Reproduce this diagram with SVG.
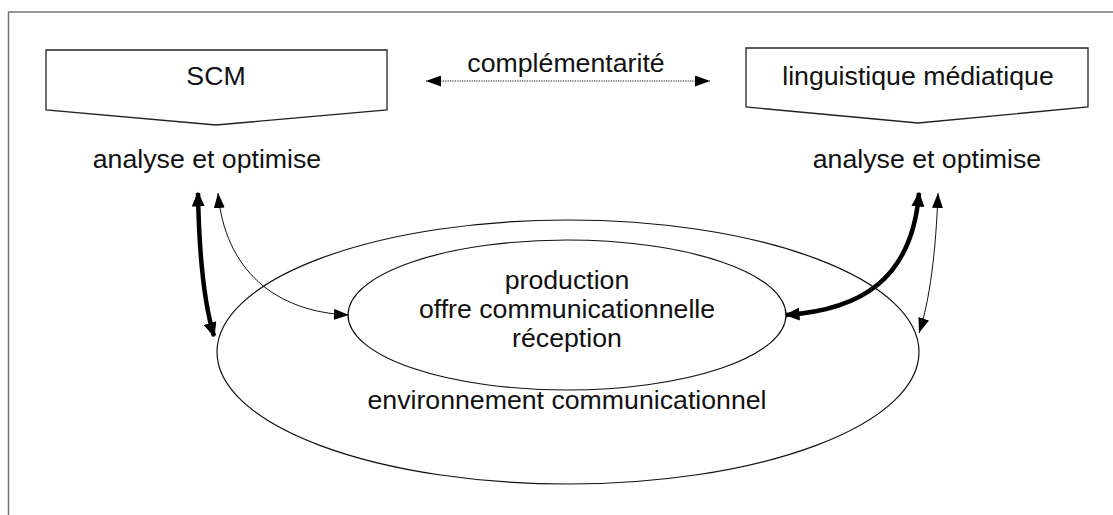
<svg xmlns="http://www.w3.org/2000/svg" width="1113" height="515" viewBox="0 0 1113 515">
<style>
text{font-family:"Liberation Sans",Arial,sans-serif;font-size:26.7px;fill:#111;text-anchor:middle}
.box{fill:#fff;stroke:#222;stroke-width:1.3}
.ell{fill:none;stroke:#111;stroke-width:1.2}
.thin{fill:none;stroke:#111;stroke-width:1}
.thick{fill:none;stroke:#000;stroke-width:4.5}
.dot{fill:none;stroke:#111;stroke-width:1.2;stroke-dasharray:1.2 1.2}
</style>
<defs>
<marker id="ah" viewBox="0 0 10 10" refX="10" refY="5" markerWidth="15" markerHeight="11" markerUnits="userSpaceOnUse" orient="auto-start-reverse" preserveAspectRatio="none"><path d="M0,0 L10,5 L0,10 Z" fill="#000"/></marker>
<marker id="ahk" viewBox="0 0 10 10" refX="9" refY="5" markerWidth="15" markerHeight="13" markerUnits="userSpaceOnUse" orient="auto-start-reverse" preserveAspectRatio="none"><path d="M0,0 L10,5 L0,10 Z" fill="#000"/></marker>
</defs>
<rect width="1113" height="515" fill="#fff"/>
<path d="M8.5,520 V12 H1120" fill="none" stroke="#777" stroke-width="1.5"/>
<g id="scm">
<polygon class="box" points="46,50 387,50 387,110 216,125 46,110"/>
<text x="216" y="85">SCM</text>
</g>
<g id="linguistique">
<polygon class="box" points="746,48 1088,48 1088,107 918,123 746,107"/>
<text x="918" y="85">linguistique médiatique</text>
</g>
<g id="complementarite">
<text x="566" y="72">complémentarité</text>
</g>
<g id="analyse-left"><text x="207" y="168">analyse et optimise</text></g>
<g id="analyse-right"><text x="927" y="168">analyse et optimise</text></g>
<g id="environnement">
<ellipse class="ell" cx="568" cy="352" rx="351" ry="132"/>
<text x="567" y="409">environnement communicationnel</text>
</g>
<g id="offre">
<ellipse class="ell" cx="567" cy="315" rx="219" ry="75"/>
<text x="567" y="289">production</text>
<text x="567" y="318">offre communicationnelle</text>
<text x="567" y="347">réception</text>
</g>
<g id="connectors">
<path class="dot" d="M426,81 H710" marker-start="url(#ah)" marker-end="url(#ah)"/>
<path class="thick" d="M198,193 C199,250 203,300 214,336" marker-start="url(#ahk)" marker-end="url(#ahk)"/>
<path class="thin" d="M218,193 C225,270 275,312 349,315" marker-start="url(#ah)" marker-end="url(#ah)"/>
<path class="thick" d="M919,193 C912,280 860,310 786,315" marker-start="url(#ahk)" marker-end="url(#ahk)"/>
<path class="thin" d="M938,193 C936,250 930,300 919,333" marker-start="url(#ah)" marker-end="url(#ah)"/>
</g>
</svg>
